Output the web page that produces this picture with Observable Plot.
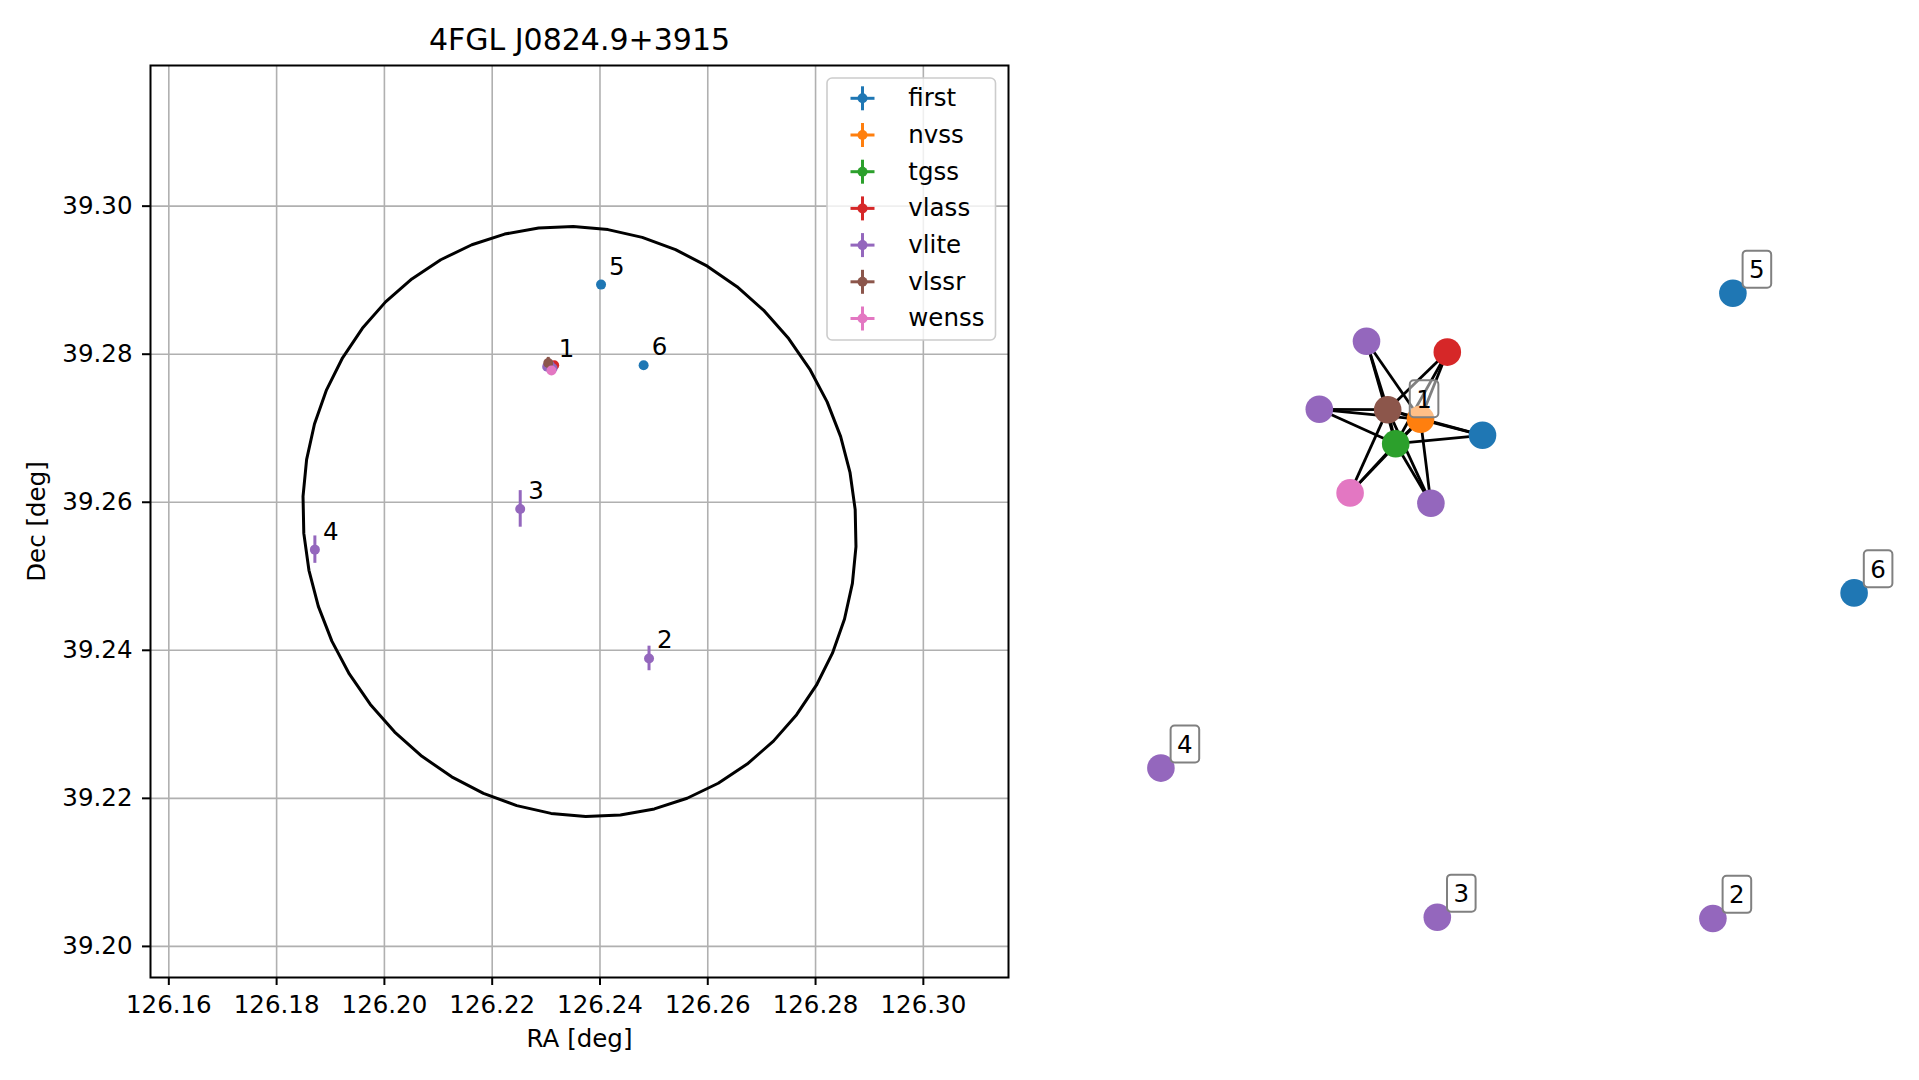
<!DOCTYPE html>
<html><head><meta charset="utf-8">
<script src="https://cdn.jsdelivr.net/npm/d3@7"></script>
<script src="https://cdn.jsdelivr.net/npm/@observablehq/plot@0.6"></script>
<style>
html,body{margin:0;padding:0;background:#fff;}
#wrap{position:relative;width:1919px;height:1080px;overflow:hidden;font-family:"DejaVu Sans",sans-serif;background:#fff;}
#left{position:absolute;left:0;top:0;}
#right{position:absolute;left:1040px;top:0;}
#legend{position:absolute;left:826px;top:77px;}
</style></head><body>
<div id="wrap"><div id="left"></div><div id="right"></div><div id="legend"></div></div>
<script>
// ---------- data ----------
const title = "4FGL J0824.9+3915";
const xLabel = "RA [deg]";
const yLabel = "Dec [deg]";
const catalogs = ["first", "nvss", "tgss", "vlass", "vlite", "vlssr", "wenss"];
const catalogColors = ["#1f77b4", "#ff7f0e", "#2ca02c", "#d62728", "#9467bd", "#8c564b", "#e377c2"];
const xTicks = [126.16, 126.18, 126.20, 126.22, 126.24, 126.26, 126.28, 126.30];
const yTicks = [39.20, 39.22, 39.24, 39.26, 39.28, 39.30];
const xDomain = [126.1566, 126.3158];
const yDomain = [39.1958, 39.3190];

// radio sources
const srcCatalog = ["first", "first", "first", "nvss", "tgss", "vlass", "vlite", "vlite", "vlite", "vlite", "vlite", "vlite", "vlssr", "wenss"];
const srcGroup   = [1, 5, 6, 1, 1, 1, 1, 1, 1, 2, 3, 4, 1, 1];
const srcRA      = [126.2310, 126.2402, 126.2481, 126.2310, 126.2309, 126.2315, 126.2302, 126.2306, 126.2312, 126.2491, 126.2252, 126.1871, 126.2304, 126.2310];
const srcDec     = [39.2783, 39.2894, 39.2785, 39.2783, 39.2783, 39.2785, 39.2783, 39.2786, 39.2781, 39.2389, 39.2591, 39.2536, 39.2788, 39.2778];
const srcRAErr   = [0.0002, 0.0002, 0.0002, 0.0003, 0.0004, 0.0001, 0.0003, 0.0003, 0.0003, 0.0004, 0.0004, 0.0004, 0.0006, 0.0005];
const srcDecErr  = [0.0002, 0.0002, 0.0002, 0.0003, 0.0003, 0.0001, 0.0004, 0.0004, 0.0004, 0.00166, 0.00247, 0.00185, 0.00077, 0.0004];

// 4FGL error ellipse
const ellipseCenter = [126.2362, 39.2574];
const ellipseAxes = [0.0407, 0.0389];   // semi-major, semi-minor (deg on sky)
const ellipsePA = 136.8;                // deg
const ellipseVertices = 50;

// graph layout (right panel) per source
const nodeLX = [-0.045, 0.581, 0.884, -0.200, -0.262, -0.133, -0.335, -0.453, -0.174, 0.531, -0.158, -0.849, -0.282, -0.376];
const nodeLY = [0.413, 0.768, 0.019, 0.453, 0.392, 0.621, 0.648, 0.478, 0.243, -0.795, -0.792, -0.419, 0.477, 0.269];
const edgeFrom = [0, 0, 0, 5, 5, 5, 6, 6, 6, 7, 7, 7, 8, 8, 8, 13, 13, 13, 3, 3, 4];
const edgeTo   = [3, 4, 12, 3, 4, 12, 3, 4, 12, 3, 4, 12, 3, 4, 12, 3, 4, 12, 4, 12, 12];

// ---------- build tables ----------
const sources = srcCatalog.map((c, i) => ({
  catalog: c, group: srcGroup[i], ra: srcRA[i], dec: srcDec[i],
  raErr: srcRAErr[i], decErr: srcDecErr[i], lx: nodeLX[i], ly: nodeLY[i]
}));
const groups = d3.groups(sources, d => d.group).map(([g, arr]) => ({
  label: String(g),
  ra: d3.mean(arr, d => d.ra), dec: d3.mean(arr, d => d.dec),
  lx: d3.mean(arr, d => d.lx), ly: d3.mean(arr, d => d.ly)
}));
const cosDec = Math.cos(ellipseCenter[1] * Math.PI / 180);
const pa = ellipsePA * Math.PI / 180;
const ellipse = d3.range(ellipseVertices + 1).map(i => {
  const t = 2 * Math.PI * i / ellipseVertices;
  const u = ellipseAxes[0] * Math.cos(t), v = ellipseAxes[1] * Math.sin(t);
  const e = u * Math.sin(pa) + v * Math.cos(pa);
  const n = u * Math.cos(pa) - v * Math.sin(pa);
  return {ra: ellipseCenter[0] + e / cosDec, dec: ellipseCenter[1] + n};
});
const edges = edgeFrom.map((f, i) => ({a: sources[f], b: sources[edgeTo[i]]}));

const FS = 24.5;
const colorScale = {domain: catalogs, range: catalogColors};

// ---------- left panel ----------
const catMarks = [];
for (const c of catalogs) {
  const rows = sources.filter(d => d.catalog === c);
  catMarks.push(
    Plot.ruleX(rows, {x: "ra", y1: d => d.dec - d.decErr, y2: d => d.dec + d.decErr, stroke: "catalog", strokeWidth: 3}),
    Plot.ruleY(rows, {y: "dec", x1: d => d.ra - d.raErr, x2: d => d.ra + d.raErr, stroke: "catalog", strokeWidth: 3}),
    Plot.dot(rows, {x: "ra", y: "dec", r: 5, fill: "catalog", stroke: "none"})
  );
}

const left = Plot.plot({
  width: 1040, height: 1080,
  marginLeft: 150, marginRight: 32, marginTop: 65, marginBottom: 103,
  style: {fontFamily: "DejaVu Sans", fontSize: FS + "px", color: "black", background: "white"},
  x: {domain: xDomain},
  y: {domain: yDomain},
  color: colorScale,
  marks: [
    Plot.gridX({ticks: xTicks, stroke: "#b0b0b0", strokeOpacity: 1, strokeWidth: 1.6}),
    Plot.gridY({ticks: yTicks, stroke: "#b0b0b0", strokeOpacity: 1, strokeWidth: 1.6}),
    Plot.line(ellipse, {x: "ra", y: "dec", stroke: "black", strokeWidth: 3}),
    ...catMarks,
    Plot.text(groups, {x: "ra", y: "dec", text: "label", dx: 8, dy: -10, textAnchor: "start", lineAnchor: "bottom", fontSize: FS, fill: "black"}),
    Plot.frame({stroke: "black", strokeWidth: 2}),
    Plot.axisX({ticks: xTicks, tickFormat: ".2f", tickSize: 8, tickPadding: 10, strokeWidth: 2, label: null, fontSize: FS}),
    Plot.axisY({ticks: yTicks, tickFormat: ".2f", tickSize: 8, tickPadding: 10, strokeWidth: 2, label: null, fontSize: FS}),
    Plot.text([title], {text: d => d, frameAnchor: "top", dy: -25, textAnchor: "middle", lineAnchor: "middle", fontSize: 30, fill: "black"}),
    Plot.text([xLabel], {text: d => d, frameAnchor: "bottom", dy: 62, textAnchor: "middle", lineAnchor: "middle", fontSize: FS, fill: "black"}),
    Plot.text([yLabel], {text: d => d, frameAnchor: "left", dx: -113, rotate: -90, textAnchor: "middle", lineAnchor: "middle", fontSize: FS, fill: "black"})
  ]
});
document.getElementById("left").appendChild(left);

// ---------- legend ----------
const lg = d3.create("svg").attr("width", 172).attr("height", 266)
  .style("font-family", "DejaVu Sans").style("overflow", "visible");
lg.append("rect").attr("x", 1).attr("y", 1).attr("width", 168.5).attr("height", 262)
  .attr("rx", 5).attr("fill", "white").attr("fill-opacity", 0.8)
  .attr("stroke", "#cccccc").attr("stroke-width", 1.6);
catalogs.forEach((c, i) => {
  const cy = 21.3 + i * 36.7, cx = 36.5, col = catalogColors[i];
  lg.append("line").attr("x1", cx - 12).attr("x2", cx + 12).attr("y1", cy).attr("y2", cy).attr("stroke", col).attr("stroke-width", 3);
  lg.append("line").attr("x1", cx).attr("x2", cx).attr("y1", cy - 12).attr("y2", cy + 12).attr("stroke", col).attr("stroke-width", 3);
  lg.append("circle").attr("cx", cx).attr("cy", cy).attr("r", 5).attr("fill", col);
  lg.append("text").attr("x", 82.3).attr("y", cy).attr("dy", "0.32em").attr("font-size", FS).attr("fill", "black").text(c);
});
document.getElementById("legend").appendChild(lg.node());

// ---------- right panel (graph) ----------
const right = Plot.plot({
  width: 879, height: 1080,
  marginLeft: 60, marginRight: 19, marginTop: 200, marginBottom: 80,
  style: {fontFamily: "DejaVu Sans", fontSize: FS + "px", color: "black", background: "white"},
  x: {domain: [-1, 1], axis: null},
  y: {domain: [-1, 1], axis: null},
  color: colorScale,
  marks: [
    Plot.link(edges, {x1: d => d.a.lx, y1: d => d.a.ly, x2: d => d.b.lx, y2: d => d.b.ly, stroke: "black", strokeWidth: 2.8}),
    Plot.dot(sources, {x: "lx", y: "ly", r: 13.8, fill: "catalog", stroke: "none"}),
    Plot.text(groups, {x: "lx", y: "ly", text: "label", dx: 24, dy: -23, textAnchor: "middle", lineAnchor: "middle", fontSize: FS, fill: "black"})
  ]
});
document.getElementById("right").appendChild(right);

// label boxes behind group label text
right.querySelectorAll("text").forEach(t => {
  if (!groups.some(g => g.label === t.textContent)) return;
  const bb = t.getBBox();
  const w = bb.width + 13, h = 37;
  const r = document.createElementNS("http://www.w3.org/2000/svg", "rect");
  r.setAttribute("x", bb.x + bb.width / 2 - w / 2);
  r.setAttribute("y", bb.y + bb.height / 2 - h / 2 - 0.5);
  r.setAttribute("width", w);
  r.setAttribute("height", h);
  r.setAttribute("rx", 4);
  r.setAttribute("fill", "white");
  r.setAttribute("fill-opacity", 0.5);
  r.setAttribute("stroke", "#808080");
  r.setAttribute("stroke-width", 2);
  if (t.getAttribute("transform")) r.setAttribute("transform", t.getAttribute("transform"));
  t.parentNode.insertBefore(r, t);
});
</script>
</body></html>
